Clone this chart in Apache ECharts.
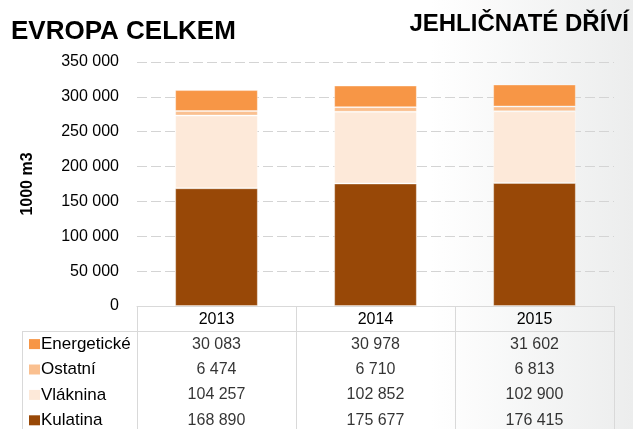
<!DOCTYPE html>
<html>
<head>
<meta charset="utf-8">
<script src="https://cdn.jsdelivr.net/npm/echarts@6/dist/echarts.min.js"></script>
<style>
html,body{margin:0;padding:0;}
body{width:633px;height:429px;background:linear-gradient(to right,#ffffff 0%,#ffffff 68%,#eceded 100%);}
#c{width:633px;height:429px;}
</style>
</head>
<body>
<div id="c"></div>
<script>
const years = ['2013', '2014', '2015'];
const kulatina = [168890, 175677, 176415];
const vlaknina = [104257, 102852, 102900];
const ostatni = [6474, 6710, 6813];
const energeticke = [30083, 30978, 31602];
const yTicks = { min: 0, max: 350000, interval: 50000 };
const titleLeft = 'EVROPA CELKEM';
const titleRight = 'JEHLIČNATÉ DŘÍVÍ';
const yName = '1000 m3';

const seriesDefs = [
  { name: 'Kulatina', data: kulatina, color: '#984807' },
  { name: 'Vláknina', data: vlaknina, color: '#FDE9D9' },
  { name: 'Ostatní', data: ostatni, color: '#FAC090' },
  { name: 'Energetické', data: energeticke, color: '#F79646' }
];
const tableRows = ['Energetické', 'Ostatní', 'Vláknina', 'Kulatina'];

const FONT = "'Liberation Sans', Arial, sans-serif";
const fmt = v => String(v).replace(/\B(?=(\d{3})+(?!\d))/g, ' ');

const rowColor = {};
seriesDefs.forEach(s => rowColor[s.name] = s.color);

const rich = { t: { fontFamily: FONT, fontSize: 17, color: '#000', padding: [0, 0, 0, 1] } };
tableRows.forEach((r, i) => {
  rich['s' + i] = { backgroundColor: rowColor[r], width: 11, height: 10 };
});

const barSeries = seriesDefs.map(s => ({
  name: s.name,
  type: 'bar',
  stack: 'total',
  barWidth: '52%',
  xAxisIndex: 0,
  yAxisIndex: 0,
  data: s.data,
  itemStyle: { color: s.color, borderColor: 'rgba(255,255,255,0.35)', borderWidth: 1 },
  emphasis: { disabled: true }
}));

const tableSeries = seriesDefs.map(s => ({
  name: s.name + ' table',
  type: 'scatter',
  xAxisIndex: 1,
  yAxisIndex: 1,
  symbolSize: 1,
  itemStyle: { color: 'transparent' },
  silent: true,
  data: years.map((y, i) => [y, s.name, s.data[i]]),
  label: {
    show: true,
    position: 'inside',
    fontFamily: FONT,
    fontSize: 16,
    color: '#000',
    formatter: p => fmt(p.value[2])
  }
}));

const chart = echarts.init(document.getElementById('c'), null, { renderer: 'canvas' });
chart.setOption({
  backgroundColor: 'transparent',
  animation: false,
  title: [
    { text: titleLeft, left: 11, top: 19, padding: 0,
      textStyle: { fontFamily: FONT, fontWeight: 'bold', fontSize: 26, color: '#000' } },
    { text: titleRight, right: 4, top: 12, padding: 0,
      textStyle: { fontFamily: FONT, fontWeight: 'bold', fontSize: 24, color: '#000' } }
  ],
  grid: [
    { left: 137, right: 19, top: 62, height: 244, outerBoundsMode: 'none' },
    { left: 137, right: 19, top: 306, height: 127, outerBoundsMode: 'none' }
  ],
  xAxis: [
    {
      type: 'category', gridIndex: 0, data: years,
      axisLine: { show: true, lineStyle: { color: '#D9D9D9', width: 1 } },
      axisTick: { show: false },
      axisLabel: { margin: 6, fontFamily: FONT, fontSize: 16, color: '#000' },
      splitLine: { show: false }
    },
    {
      type: 'category', gridIndex: 1, data: years,
      axisLine: { show: false }, axisTick: { show: false }, axisLabel: { show: false },
      splitLine: { show: true, lineStyle: { color: '#D9D9D9', width: 1 } }
    }
  ],
  yAxis: [
    {
      type: 'value', gridIndex: 0,
      min: yTicks.min, max: yTicks.max, interval: yTicks.interval,
      name: yName, nameLocation: 'middle', nameGap: 101, nameRotate: 90,
      nameTextStyle: { fontFamily: FONT, fontWeight: 'bold', fontSize: 16, color: '#000' },
      axisLine: { show: false }, axisTick: { show: false },
      axisLabel: { margin: 18, fontFamily: FONT, fontSize: 16, color: '#000', formatter: v => fmt(v) },
      splitLine: { show: true, lineStyle: { color: '#D4D4D4', width: 1, type: [10, 4] } }
    },
    {
      type: 'category', gridIndex: 1, inverse: true,
      data: [''].concat(tableRows),
      axisLine: { show: false }, axisTick: { show: false },
      axisLabel: {
        margin: 108, align: 'left',
        formatter: (v, i) => v ? '{s' + (i - 1) + '|}{t|' + v + '}' : '',
        rich: rich
      },
      splitLine: { show: false }
    }
  ],
  graphic: [
    { type: 'line', shape: { x1: 22, y1: 331.5, x2: 614, y2: 331.5 }, style: { stroke: '#D9D9D9', lineWidth: 1 }, silent: true },
    { type: 'line', shape: { x1: 22.5, y1: 331, x2: 22.5, y2: 429 }, style: { stroke: '#D9D9D9', lineWidth: 1 }, silent: true }
  ],
  series: barSeries.concat(tableSeries)
});
</script>
</body>
</html>
